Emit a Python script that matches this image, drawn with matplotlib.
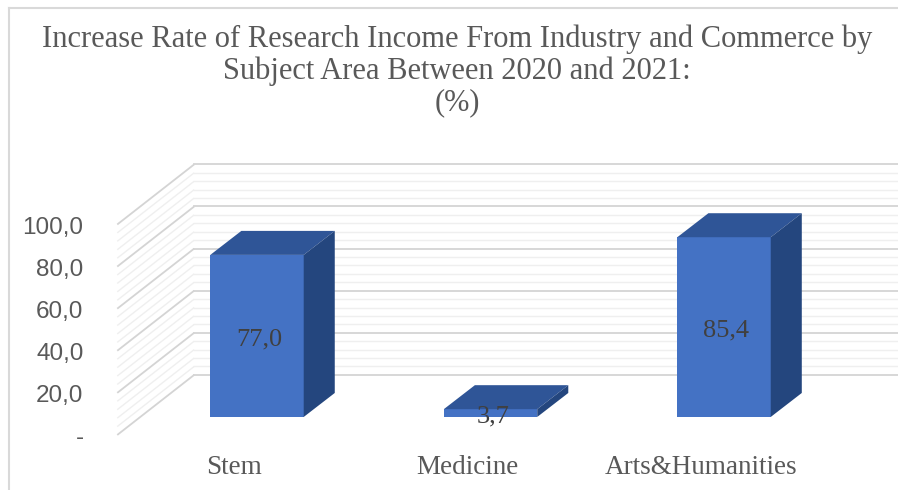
import numpy as np
import matplotlib.pyplot as plt
from matplotlib.patches import Polygon

# data
categories = ['Stem', 'Medicine', 'Arts&Humanities']
values = [77.0, 3.7, 85.4]
value_labels = ['77,0', '3,7', '85,4']
ticks = [0, 20, 40, 60, 80, 100]
tick_labels = ['-', '20,0', '40,0', '60,0', '80,0', '100,0']

# fake 3d geometry (offsets in data units)
bar_w = 0.40
dx, dy = 0.133, 11.4          # bar depth
bx, by = 0.231, 20.0          # back wall relative to bar front plane
fx, fy = -0.0985, -8.55       # front edge of floor / side wall
wall_x = -0.5

front_c = '#4472C4'
top_c = '#2F5597'
side_c = '#24467E'
txt_c = '#595959'

fig = plt.figure(figsize=(8.98, 4.9), dpi=100)
ax = fig.add_axes([0, 0, 1, 1])
ax.set_xlim(-1.1006, 2.745)
ax.set_ylim(-34.7, 198.1)
ax.axis('off')

# chart border (only left and top are visible)
fig.add_artist(plt.Line2D([0.010, 0.010], [0, 0.984], color='#D9D9D9', lw=1.5))
fig.add_artist(plt.Line2D([0.010, 1], [0.984, 0.984], color='#D9D9D9', lw=1.5))

# gridlines on side and back walls
xr = ax.get_xlim()[1]
for v in np.arange(0, 101, 4):
    major = v % 20 == 0
    c = '#D4D4D4' if major else '#EFEFEF'
    lw = 1.3 if major else 1.0
    ax.plot([wall_x + fx, wall_x + bx], [v + fy, v + by], color=c, lw=lw,
            solid_capstyle='butt', zorder=1)
    ax.plot([wall_x + bx, xr], [v + by, v + by], color=c, lw=lw, zorder=1)

# bars
x = np.arange(len(categories))
ax.bar(x, values, width=bar_w, color=front_c, zorder=3)
for xi, v in zip(x, values):
    l, r = xi - bar_w / 2, xi + bar_w / 2
    ax.add_patch(Polygon([(l, v), (r, v), (r + dx, v + dy), (l + dx, v + dy)],
                         closed=True, fc=top_c, ec='none', zorder=3))
    ax.add_patch(Polygon([(r, 0), (r + dx, dy), (r + dx, v + dy), (r, v)],
                         closed=True, fc=side_c, ec='none', zorder=3))

# data labels
for xi, v, s in zip(x, values, value_labels):
    ax.text(xi + 0.01, v / 2 - 1.5, s, ha='center', va='center', fontsize=19,
            family='Liberation Serif', color='#404040', zorder=4)

# y tick labels
for t, s in zip(ticks, tick_labels):
    ax.text(-0.7425, t + fy - 1.5, s, ha='right', va='center', fontsize=17.5,
            family='Liberation Sans', color=txt_c)

# category labels
for xi, s in zip(x, categories):
    ax.text(xi + fx, -24, s, ha='center', va='center', fontsize=19.5,
            family='Liberation Serif', color=txt_c)

fig.text(0.509, 0.856,
         'Increase Rate of Research Income From Industry and Commerce by\n'
         'Subject Area Between 2020 and 2021:\n(%)',
         ha='center', va='center', fontsize=22, family='Liberation Serif',
         color=txt_c, linespacing=1.1)

fig.savefig('out.png', dpi=100)
